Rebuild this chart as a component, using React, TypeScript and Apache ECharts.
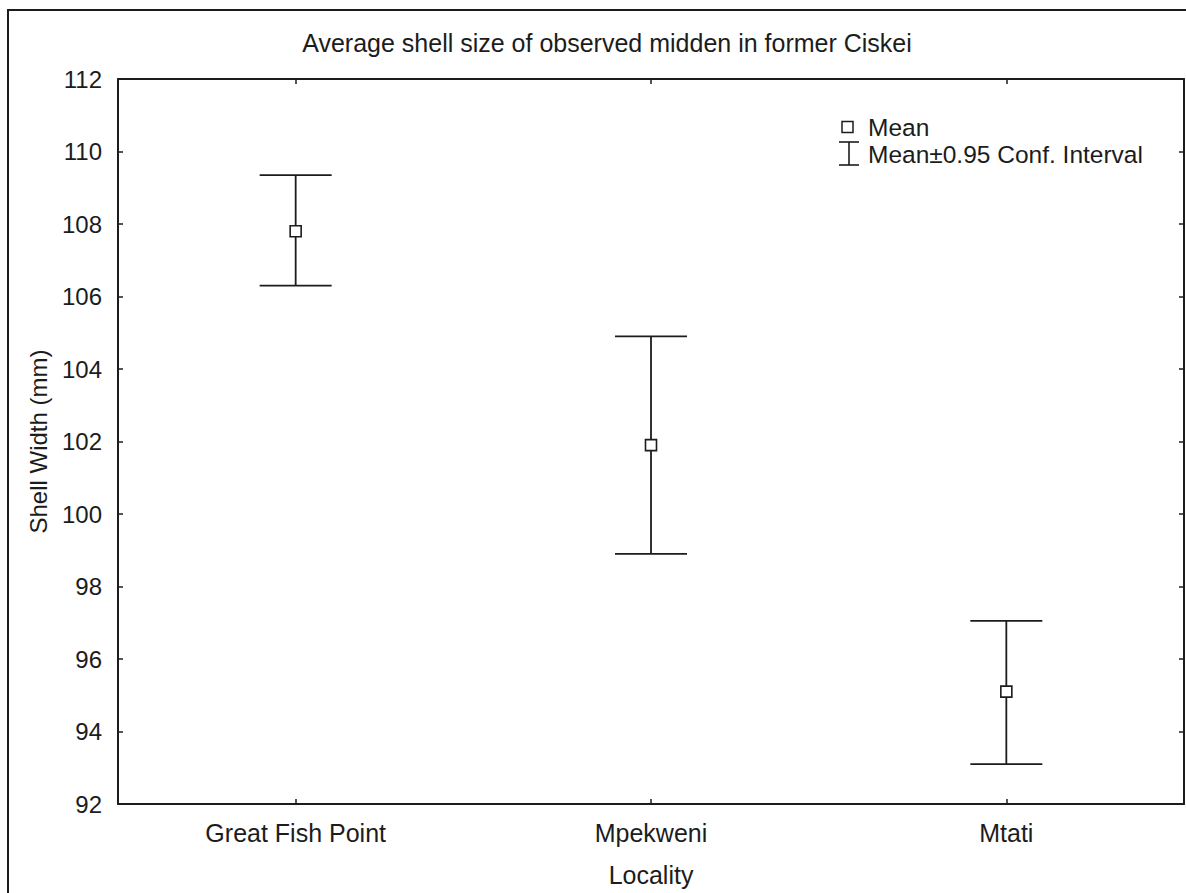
import React, { useEffect, useRef } from "react";
import * as echarts from "echarts";

const categories = ["Great Fish Point", "Mpekweni", "Mtati"];
const means = [107.8, 101.9, 95.1];
const lowerCI = [106.3, 98.9, 93.1];
const upperCI = [109.35, 104.9, 97.05];
const yTicks = { min: 92, max: 112, interval: 2 };

const titleText = "Average shell size of observed midden in former Ciskei";
const yName = "Shell Width (mm)";
const xName = "Locality";
const legendMean = "Mean";
const legendCI = "Mean±0.95 Conf. Interval";

const INK = "#1c1c1c";
const FONT = "Arial, 'Liberation Sans', sans-serif";

export default function App() {
  const ref = useRef<HTMLDivElement>(null);

  useEffect(() => {
    if (!ref.current) return;
    const chart = echarts.init(ref.current, null, { renderer: "svg" });

    const ciData = categories.map((_, i) => [i, lowerCI[i], upperCI[i]]);
    const meanData = categories.map((_, i) => [i, means[i]]);

    const capHalf = 36;

    chart.setOption({
      animation: false,
      backgroundColor: "#ffffff",
      title: {
        text: titleText,
        left: 602,
        top: 25,
        textAlign: "center",
        textStyle: { fontFamily: FONT, fontSize: 25, fontWeight: "normal", color: INK },
      },
      grid: { left: 118, top: 79, width: 1066, height: 725, containLabel: false },
      xAxis: [
        {
          type: "category",
          data: categories,
          position: "bottom",
          name: xName,
          nameLocation: "middle",
          nameGap: 58,
          nameTextStyle: { fontFamily: FONT, fontSize: 25, color: INK },
          axisLine: { show: true, lineStyle: { color: INK, width: 2 } },
          axisTick: { show: true, inside: true, length: 5, alignWithLabel: true, lineStyle: { color: INK, width: 1.5 } },
          axisLabel: { fontFamily: FONT, fontSize: 25, color: INK, margin: 16 },
          splitLine: { show: false },
        },
        {
          type: "category",
          data: categories,
          position: "top",
          axisLine: { show: true, lineStyle: { color: INK, width: 2 } },
          axisTick: { show: true, inside: true, length: 5, alignWithLabel: true, lineStyle: { color: INK, width: 1.5 } },
          axisLabel: { show: false },
          splitLine: { show: false },
        },
      ],
      yAxis: [
        {
          type: "value",
          min: yTicks.min,
          max: yTicks.max,
          interval: yTicks.interval,
          position: "left",
          name: yName,
          nameLocation: "middle",
          nameGap: 68,
          nameTextStyle: { fontFamily: FONT, fontSize: 24, color: INK },
          axisLine: { show: true, lineStyle: { color: INK, width: 2 } },
          axisTick: { show: true, inside: true, length: 5, lineStyle: { color: INK, width: 1.5 } },
          axisLabel: { fontFamily: FONT, fontSize: 24, color: INK, margin: 16 },
          splitLine: { show: false },
        },
        {
          type: "value",
          min: yTicks.min,
          max: yTicks.max,
          interval: yTicks.interval,
          position: "right",
          axisLine: { show: true, lineStyle: { color: INK, width: 2 } },
          axisTick: { show: true, inside: true, length: 5, lineStyle: { color: INK, width: 1.5 } },
          axisLabel: { show: false },
          splitLine: { show: false },
        },
      ],
      graphic: [
        {
          type: "rect",
          shape: { x: 8, y: 10, width: 1200, height: 900 },
          style: { fill: "none", stroke: INK, lineWidth: 2 },
          silent: true,
          z: -10,
        },
        {
          type: "rect",
          shape: { x: 842, y: 121.5, width: 11, height: 11 },
          style: { fill: "#fff", stroke: INK, lineWidth: 1.5 },
        },
        {
          type: "text",
          x: 868,
          y: 127,
          style: { text: legendMean, fontFamily: FONT, fontSize: 24.5, fill: INK, verticalAlign: "middle", align: "left" },
        },
        {
          type: "line",
          shape: { x1: 849, y1: 142, x2: 849, y2: 165 },
          style: { stroke: INK, lineWidth: 1.6 },
        },
        {
          type: "line",
          shape: { x1: 839, y1: 142, x2: 859, y2: 142 },
          style: { stroke: INK, lineWidth: 1.6 },
        },
        {
          type: "line",
          shape: { x1: 839, y1: 165, x2: 859, y2: 165 },
          style: { stroke: INK, lineWidth: 1.6 },
        },
        {
          type: "text",
          x: 868,
          y: 154,
          style: { text: legendCI, fontFamily: FONT, fontSize: 24.5, fill: INK, verticalAlign: "middle", align: "left" },
        },
      ],
      series: [
        {
          type: "custom",
          name: legendCI,
          xAxisIndex: 0,
          yAxisIndex: 0,
          data: ciData,
          encode: { x: 0, y: [1, 2] },
          z: 2,
          renderItem: (params: any, api: any) => {
            const idx = api.value(0);
            const lo = api.coord([idx, api.value(1)]);
            const hi = api.coord([idx, api.value(2)]);
            const style = { stroke: INK, lineWidth: 1.8, fill: "none" };
            return {
              type: "group",
              children: [
                { type: "line", shape: { x1: lo[0], y1: lo[1], x2: hi[0], y2: hi[1] }, style },
                { type: "line", shape: { x1: hi[0] - capHalf, y1: hi[1], x2: hi[0] + capHalf, y2: hi[1] }, style },
                { type: "line", shape: { x1: lo[0] - capHalf, y1: lo[1], x2: lo[0] + capHalf, y2: lo[1] }, style },
              ],
            };
          },
        },
        {
          type: "scatter",
          name: legendMean,
          xAxisIndex: 0,
          yAxisIndex: 0,
          data: meanData,
          symbol: "rect",
          symbolSize: 11,
          z: 5,
          itemStyle: { color: "#ffffff", borderColor: INK, borderWidth: 1.6, opacity: 1 },
        },
      ],
    });

    return () => chart.dispose();
  }, []);

  return (
    <div
      ref={ref}
      style={{ position: "absolute", left: 0, top: 0, width: 1186, height: 893, background: "#fff" }}
    />
  );
}
